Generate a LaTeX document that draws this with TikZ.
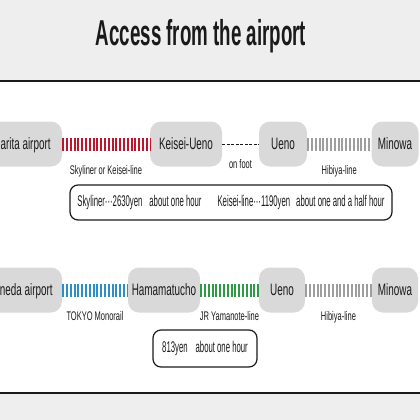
\documentclass[tikz,border=0pt]{standalone}
\usepackage{fontspec}
\setmainfont{Liberation Sans}
\newfontfamily\narrowfont[FakeStretch=0.6]{Liberation Sans}
\newfontfamily\farefont[FakeStretch=0.5]{Liberation Sans}
\newfontfamily\titlefont[FakeStretch=0.52]{Liberation Sans}
\usetikzlibrary{positioning}
\definecolor{acink}{HTML}{1A1A1A}
\definecolor{acband}{HTML}{EEEEEE}
\definecolor{acstation}{HTML}{D9D9D9}
\definecolor{acred}{HTML}{C0142C}
\definecolor{acblue}{HTML}{2C8FC8}
\definecolor{acgreen}{HTML}{2E9A45}
\definecolor{acgrey}{HTML}{9E9E9E}
\tikzset{
  ac station/.style={fill=acstation, rounded corners=11pt, minimum height=45pt,
    inner sep=0pt, text height=11.8pt, text depth=0pt, text=acink,
    font=\narrowfont\fontsize{16.5}{18}\selectfont},
  ac rail/.style={line width=13pt, dash pattern=on 2pt off 1.8pt},
  ac walk/.style={line width=1pt, dash pattern=on 3pt off 1.5pt, draw=acink},
  ac line name/.style={font=\narrowfont\fontsize{12.5}{14}\selectfont, text=acink,
    anchor=north, yshift=-14pt, inner sep=1pt},
  ac fare/.style={draw=acink, line width=1.2pt, rounded corners=8pt, fill=white,
    inner sep=0pt, text=acink, font=\farefont\fontsize{15.5}{17}\selectfont},
  ac rule/.style={line width=2pt, draw=acink}
}
\begin{document}
\begin{tikzpicture}[x=1pt, y=-1pt]
  \useasboundingbox (0,0) rectangle (420,420);
  % bands
  \fill[acband] (0,0) rectangle (420,81);
  \fill[acband] (0,393) rectangle (420,420);
  \draw[ac rule] (0,81) -- (420,81);
  \draw[ac rule] (0,393) -- (420,393);
  \node[font=\titlefont\bfseries\fontsize{36}{40}\selectfont, text=acink, anchor=base]
    (title) at (201,45.7) {Access from the airport};

  % Narita route
  \node[ac station, minimum width=80pt] (narita) at (22,144) {Narita airport};
  \node[ac station, minimum width=72pt] (keiseiueno) at (186,144) {Keisei-Ueno};
  \node[ac station, minimum width=48pt] (uenoA) at (283,144) {Ueno};
  \node[ac station, minimum width=47pt] (minowaA) at (395,144) {Minowa};
  \draw[ac rail, acred] (narita) -- node[ac line name] (skyliner) {Skyliner or Keisei-line} (keiseiueno);
  \draw[ac walk] (keiseiueno) -- node[ac line name] (onfoot) {on foot} (uenoA);
  \draw[ac rail, acgrey] (uenoA) -- node[ac line name] (hibiyaA) {Hibiya-line} (minowaA);
  \node[ac fare, minimum width=322pt, minimum height=35pt] (naritafare) at (231,202.5)
    {Skyliner···2630yen\hspace{7pt}about one hour\hspace{16pt}Keisei-line···1190yen\hspace{6pt}about one and a half hour};

  % Haneda route
  \node[ac station, minimum width=84pt] (haneda) at (20,290) {Haneda airport};
  \node[ac station, minimum width=72pt] (hamamatucho) at (164,290) {Hamamatucho};
  \node[ac station, minimum width=46pt] (uenoB) at (282,290) {Ueno};
  \node[ac station, minimum width=46pt] (minowaB) at (395,290) {Minowa};
  \draw[ac rail, acblue] (haneda) -- node[ac line name] (monorail) {TOKYO Monorail} (hamamatucho);
  \draw[ac rail, acgreen] (hamamatucho) -- node[ac line name] (yamanote) {JR Yamanote-line} (uenoB);
  \draw[ac rail, acgrey] (uenoB) -- node[ac line name] (hibiyaB) {Hibiya-line} (minowaB);
  \node[ac fare, minimum width=104pt, minimum height=37pt] (hanedafare) at (205,348.5)
    {813yen\hspace{8pt}about one hour};
\end{tikzpicture}
\end{document}
